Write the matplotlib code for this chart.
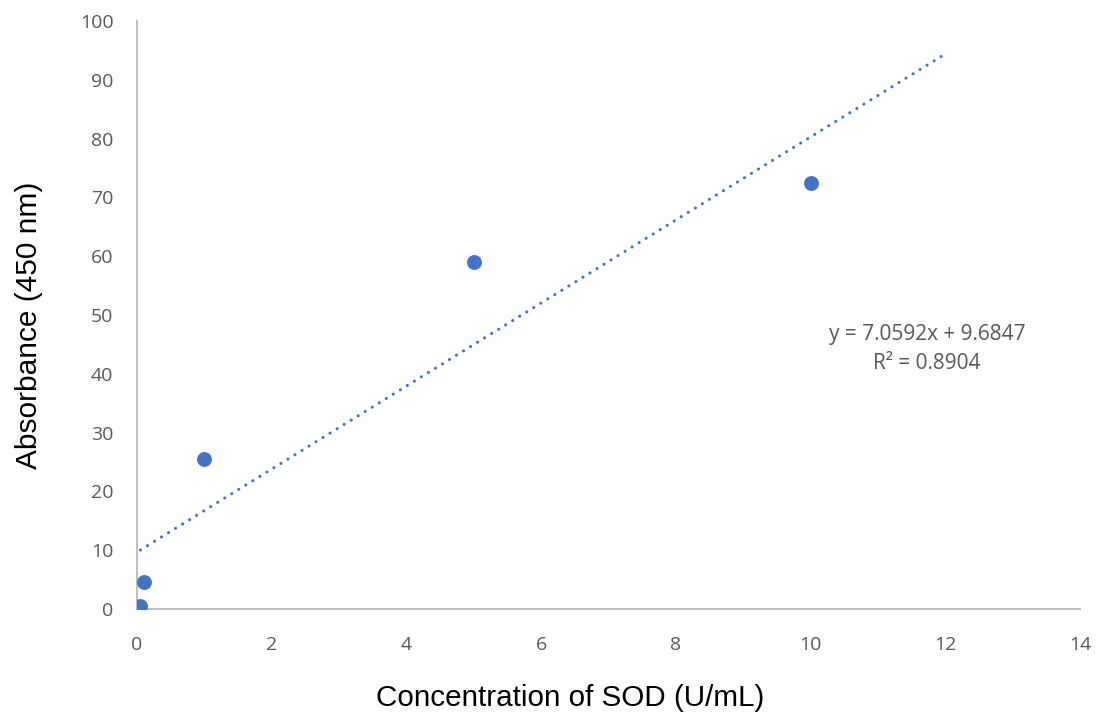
import matplotlib
matplotlib.use('Agg')
from matplotlib import pyplot as plt
import numpy as np

# SOD standard curve
conc = [0.05, 0.1, 1, 5, 10]
absorb = [0.5, 4.6, 25.5, 59.0, 72.4]
slope = 7.0592
intercept = 9.6847
r2 = 0.8904
xticks = [0, 2, 4, 6, 8, 10, 12, 14]
yticks = [0, 10, 20, 30, 40, 50, 60, 70, 80, 90, 100]

blue = '#4472C4'
grey = '#595959'

fig = plt.figure(figsize=(10.98, 7.21), dpi=100)
ax = fig.add_axes([0.1248, 0.1553, 0.8588, 0.8156])

# linear trendline, forecast forward to x=12
xt = np.linspace(min(conc), 12, 200)
ax.plot(xt, slope * xt + intercept, color=blue, lw=2.2,
        linestyle=(0, (0.05, 2.65)), dash_capstyle='round', zorder=2)
ax.scatter(conc, absorb, s=115, color=blue, zorder=3, linewidths=0)

ax.set_xlim(0, 14)
ax.set_ylim(0, 100)
ax.set_xticks(xticks)
ax.set_yticks(yticks)
ax.tick_params(length=0, labelsize=14, labelcolor=grey)
ax.tick_params(axis='x', pad=19.5)
ax.tick_params(axis='y', pad=17)
for lab in ax.get_xticklabels() + ax.get_yticklabels():
    lab.set_fontfamily('Open Sans')

for s in ['top', 'right']:
    ax.spines[s].set_visible(False)
for s in ['left', 'bottom']:
    ax.spines[s].set_color('#BFBFBF')
    ax.spines[s].set_linewidth(1.4)

ax.text(11.73, 46.7, f'y = {slope}x + {intercept}', ha='center', va='center',
        fontsize=15, color=grey, family='Open Sans')
ax.text(11.73, 41.75, f'R² = {r2}', ha='center', va='center',
        fontsize=15, color=grey, family='Open Sans')

ax.set_xlabel('Concentration of SOD (U/mL)', fontsize=21.3, family='Liberation Sans')
ax.set_ylabel('Absorbance (450 nm)', fontsize=21.5, family='Liberation Sans')
ax.xaxis.set_label_coords(0.459, -0.1276)
ax.yaxis.set_label_coords(-0.0997, 0.483)

fig.savefig('out.png', dpi=100)
